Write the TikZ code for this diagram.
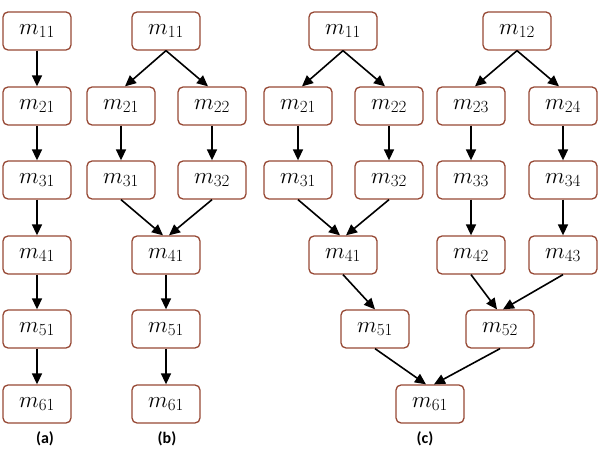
\RequirePackage{fix-cm}
\documentclass[tikz,border=0pt]{standalone}
\usepackage{fontspec}
\newfontfamily\lab{Carlito}
\usetikzlibrary{arrows.meta}
\DeclareMathSizes{23}{23}{17}{13}
\definecolor{bord}{RGB}{150,72,52}
\begin{document}
\begin{tikzpicture}[x=1pt,y=-1pt,
 mbox/.style={draw=bord, line width=1.3pt, rounded corners=5pt, minimum width=68pt, minimum height=38pt, inner sep=0pt, font=\fontsize{23}{27}\selectfont},
 arr/.style={line width=1.6pt, -{Triangle[length=11pt,width=10pt]}},
 lbl/.style={font=\lab\bfseries\fontsize{16}{18}\selectfont}]
\useasboundingbox (0,0) rectangle (600,454);
% (a)
\node[mbox] (a11) at (37,31) {$m_{11}$};
\node[mbox] (a21) at (37,106) {$m_{21}$};
\node[mbox] (a31) at (37,180) {$m_{31}$};
\node[mbox] (a41) at (37,255) {$m_{41}$};
\node[mbox] (a51) at (37,329) {$m_{51}$};
\node[mbox] (a61) at (37,404) {$m_{61}$};
\draw[arr] (a11.south) -- (a21.north);
\draw[arr] (a21.south) -- (a31.north);
\draw[arr] (a31.south) -- (a41.north);
\draw[arr] (a41.south) -- (a51.north);
\draw[arr] (a51.south) -- (a61.north);
% (b)
\node[mbox] (b11) at (166,31) {$m_{11}$};
\node[mbox] (b21) at (121,106) {$m_{21}$};
\node[mbox] (b22) at (212,106) {$m_{22}$};
\node[mbox] (b31) at (121,180) {$m_{31}$};
\node[mbox] (b32) at (212,180) {$m_{32}$};
\node[mbox] (b41) at (166,255) {$m_{41}$};
\node[mbox] (b51) at (166,329) {$m_{51}$};
\node[mbox] (b61) at (166,404) {$m_{61}$};
\draw[arr] (b11.south) -- ([xshift=4pt]b21.north);
\draw[arr] (b11.south) -- ([xshift=-4pt]b22.north);
\draw[arr] (b21.south) -- (b31.north);
\draw[arr] (b22.south) -- (b32.north);
\draw[arr] (b31.south) -- ([xshift=-3pt]b41.north);
\draw[arr] (b32.south) -- ([xshift=3pt]b41.north);
\draw[arr] (b41.south) -- (b51.north);
\draw[arr] (b51.south) -- (b61.north);
% (c)
\node[mbox] (c11) at (343,31) {$m_{11}$};
\node[mbox] (c12) at (517,31) {$m_{12}$};
\node[mbox] (c21) at (298,106) {$m_{21}$};
\node[mbox] (c22) at (389,106) {$m_{22}$};
\node[mbox] (c23) at (471,106) {$m_{23}$};
\node[mbox] (c24) at (563,106) {$m_{24}$};
\node[mbox] (c31) at (298,180) {$m_{31}$};
\node[mbox] (c32) at (389,180) {$m_{32}$};
\node[mbox] (c33) at (471,180) {$m_{33}$};
\node[mbox] (c34) at (563,180) {$m_{34}$};
\node[mbox] (c41) at (343,255) {$m_{41}$};
\node[mbox] (c42) at (471,255) {$m_{42}$};
\node[mbox] (c43) at (563,255) {$m_{43}$};
\node[mbox] (c51) at (375,329) {$m_{51}$};
\node[mbox] (c52) at (500,329) {$m_{52}$};
\node[mbox] (c61) at (430,404) {$m_{61}$};
\draw[arr] (c11.south) -- ([xshift=4pt]c21.north);
\draw[arr] (c11.south) -- ([xshift=-4pt]c22.north);
\draw[arr] (c12.south) -- ([xshift=4pt]c23.north);
\draw[arr] (c12.south) -- ([xshift=-4pt]c24.north);
\draw[arr] (c21.south) -- (c31.north);
\draw[arr] (c22.south) -- (c32.north);
\draw[arr] (c23.south) -- (c33.north);
\draw[arr] (c24.south) -- (c34.north);
\draw[arr] (c31.south) -- ([xshift=-3pt]c41.north);
\draw[arr] (c32.south) -- ([xshift=3pt]c41.north);
\draw[arr] (c33.south) -- (c42.north);
\draw[arr] (c34.south) -- (c43.north);
\draw[arr] (c41.south) -- (c51.north);
\draw[arr] (c42.south) -- ([xshift=-3pt]c52.north);
\draw[arr] (c43.south) -- ([xshift=3pt]c52.north);
\draw[arr] (c51.south) -- ([xshift=-4pt]c61.north);
\draw[arr] (c52.south) -- ([xshift=4pt]c61.north);
% labels
\node[lbl] (la) at (45,439) {(a)};
\node[lbl] (lb) at (167,439) {(b)};
\node[lbl] (lc) at (425,439) {(c)};
\end{tikzpicture}
\end{document}
